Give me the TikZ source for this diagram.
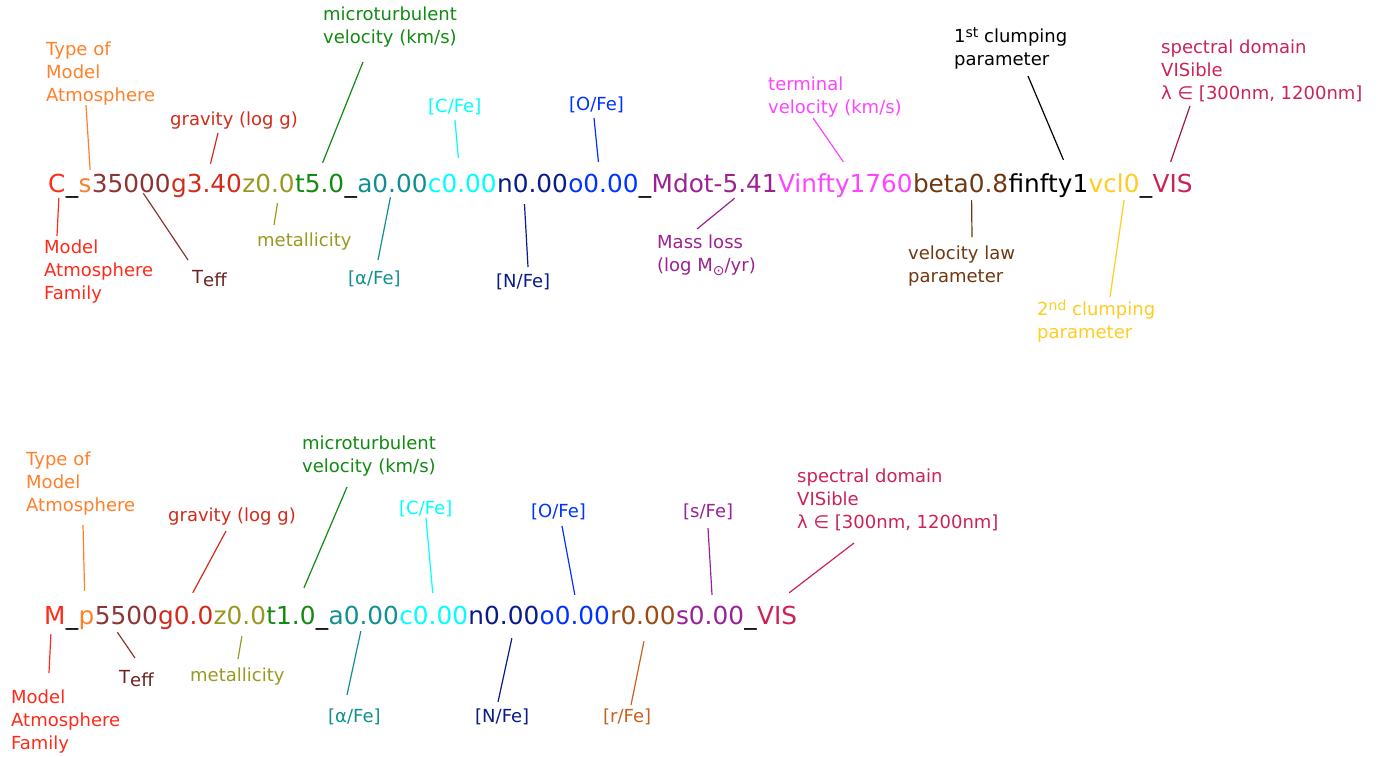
\documentclass[tikz,border=0pt]{standalone}
\usepackage{fontspec}
\setmainfont{DejaVu Sans}
\usetikzlibrary{calc}
\definecolor{cFam}{HTML}{FF2A1A}
\definecolor{cType}{HTML}{FF7F2A}
\definecolor{cTeff}{HTML}{8B3535}
\definecolor{cTeffL}{HTML}{6E2222}
\definecolor{cGrav}{HTML}{D42A1A}
\definecolor{cMet}{HTML}{999922}
\definecolor{cMicro}{HTML}{118A11}
\definecolor{cAlpha}{HTML}{12908F}
\definecolor{cCFe}{HTML}{00FFFF}
\definecolor{cNFe}{HTML}{0A1A88}
\definecolor{cOFe}{HTML}{0033FF}
\definecolor{cMdot}{HTML}{9B2290}
\definecolor{cVinf}{HTML}{FF44FF}
\definecolor{cBeta}{HTML}{703810}
\definecolor{cVcl}{HTML}{FFCC22}
\definecolor{cVIS}{HTML}{CC2255}
\definecolor{cVISd}{HTML}{A01848}
\definecolor{cRFe}{HTML}{A04A12}
\definecolor{cRFeL}{HTML}{C8601E}
\definecolor{cSFe}{HTML}{992299}
\tikzset{
  seg/.style={inner sep=0pt,text height=18pt,text depth=6pt,anchor=base west,
    font=\fontsize{24.75}{30}\selectfont},
  lbl/.style={inner sep=0pt,anchor=base west,align=left,
    font=\fontsize{18}{23}\selectfont},
  lnk/.style={line width=1.2pt}
}
\newcommand{\Sup}[1]{\raisebox{5pt}{\fontsize{14}{14}\selectfont #1}}
\newcommand{\Teff}{T\raisebox{-3.5pt}{eff}}
\newcommand{\Msun}{M\raisebox{-4pt}{\fontsize{14}{14}\selectfont ⊙}}

\begin{document}
\begin{tikzpicture}[x=1pt,y=-1pt]
\useasboundingbox (0,0) rectangle (1386,756);

% first file name (spherical model)
\node[seg,text=cFam] (tC) at (48,192) {C};
\node[seg] (tU1) at (tC.base east) {\_};
\node[seg,text=cType] (tS) at (tU1.base east) {s};
\node[seg,text=cTeff] (tTeff) at (tS.base east) {35000};
\node[seg,text=cGrav] (tGrav) at (tTeff.base east) {g3.40};
\node[seg,text=cMet] (tMet) at (tGrav.base east) {z0.0};
\node[seg,text=cMicro] (tMicro) at (tMet.base east) {t5.0};
\node[seg] (tU2) at (tMicro.base east) {\_};
\node[seg,text=cAlpha] (tAlpha) at (tU2.base east) {a0.00};
\node[seg,text=cCFe] (tCFe) at (tAlpha.base east) {c0.00};
\node[seg,text=cNFe] (tNFe) at (tCFe.base east) {n0.00};
\node[seg,text=cOFe] (tOFe) at (tNFe.base east) {o0.00};
\node[seg] (tU3) at (tOFe.base east) {\_};
\node[seg,text=cMdot] (tMdot) at (tU3.base east) {Mdot-5.41};
\node[seg,text=cVinf] (tVinf) at (tMdot.base east) {Vinfty1760};
\node[seg,text=cBeta] (tBeta) at (tVinf.base east) {beta0.8};
\node[seg] (tFinf) at (tBeta.base east) {finfty1};
\node[seg,text=cVcl] (tVcl) at (tFinf.base east) {vcl0};
\node[seg] (tU4) at (tVcl.base east) {\_};
\node[seg,text=cVIS] (tVIS) at (tU4.base east) {VIS};

% labels above (placed at the baseline of their last line)
\node[lbl,text=cType] (lType) at (46,101) {Type of\\Model\\Atmosphere};
\node[lbl,text=cGrav] (lGrav) at (170,125) {gravity (log g)};
\node[lbl,text=cMicro] (lMicro) at (323,43) {microturbulent\\velocity (km/s)};
\node[lbl,text=cCFe] (lCFe) at (428,112) {[C/Fe]};
\node[lbl,text=cOFe] (lOFe) at (569,110) {[O/Fe]};
\node[lbl,text=cVinf] (lTerm) at (768,113) {terminal\\velocity (km/s)};
\node[lbl] (lClumpA) at (954,65) {1\Sup{st} clumping\\parameter};
\node[lbl,text=cVIS] (lSpec) at (1161,99) {spectral domain\\VISible\\λ ∈ [300nm, 1200nm]};
% labels below
\node[lbl,text=cFam] (lFam) at (44,299) {Model\\Atmosphere\\Family};
\node[lbl,text=cTeffL] (lTeff) at (192,283) {\Teff};
\node[lbl,text=cMet] (lMet) at (257,246) {metallicity};
\node[lbl,text=cAlpha] (lAlpha) at (348,284) {[α/Fe]};
\node[lbl,text=cNFe] (lNFe) at (496,287) {[N/Fe]};
\node[lbl,text=cMdot] (lMass) at (657,271) {Mass loss\\(log \Msun/yr)};
\node[lbl,text=cBeta] (lVlaw) at (908,282) {velocity law\\parameter};
\node[lbl,text=cVcl] (lClumpB) at (1037,338) {2\Sup{nd} clumping\\parameter};

\draw[lnk,cType] ($(lType.base west)+(40,4)$) -- ($(tS.north)+(5,-4)$);
\draw[lnk,cGrav] ($(lGrav.base west)+(48,8)$) -- ($(tGrav.north)+(4,-10)$);
\draw[lnk,cMicro] ($(lMicro.base west)+(40,19)$) -- ($(tMicro.north)+(3,-11)$);
\draw[lnk,cCFe] ($(lCFe.base west)+(27,8)$) -- ($(tCFe.north)+(-4,-16)$);
\draw[lnk,cOFe] ($(lOFe.base west)+(25,8)$) -- ($(tOFe.north)+(-5,-12)$);
\draw[lnk,cVinf] ($(lTerm.base west)+(45,5)$) -- ($(tVinf.north)+(-2,-12)$);
\draw[lnk] ($(lClumpA.base west)+(74,11)$) -- ($(tFinf.north)+(15,-14)$);
\draw[lnk,cVISd] ($(lSpec.base west)+(29,7)$) -- ($(tVIS.north)+(-2,-12)$);
\draw[lnk,cFam] ($(tC.south)+(2,0)$) -- ($(lFam.base west)+(13,-63)$);
\draw[lnk,cTeff] ($(tTeff.south)+(12,-5)$) -- ($(lTeff.base west)+(-4,-23)$);
\draw[lnk,cMet] ($(tMet.south)+(9,5)$) -- ($(lMet.base west)+(17,-21)$);
\draw[lnk,cAlpha] ($(tAlpha.south)+(-2,-1)$) -- ($(lAlpha.base west)+(30,-24)$);
\draw[lnk,cNFe] ($(tNFe.south)+(-8,6)$) -- ($(lNFe.base west)+(32,-20)$);
\draw[lnk,cMdot] ($(tMdot.south)+(20,0)$) -- ($(lMass.base west)+(40,-42)$);
\draw[lnk,cBeta] ($(tBeta.south)+(11,2)$) -- ($(lVlaw.base west)+(64,-45)$);
\draw[lnk,cVcl] ($(tVcl.south)+(10,2)$) -- ($(lClumpB.base west)+(73,-41)$);

% second file name (plane-parallel model)
\node[seg,text=cFam] (bM) at (44,624) {M};
\node[seg] (bU1) at (bM.base east) {\_};
\node[seg,text=cType] (bP) at (bU1.base east) {p};
\node[seg,text=cTeff] (bTeff) at (bP.base east) {5500};
\node[seg,text=cGrav] (bGrav) at (bTeff.base east) {g0.0};
\node[seg,text=cMet] (bMet) at (bGrav.base east) {z0.0};
\node[seg,text=cMicro] (bMicro) at (bMet.base east) {t1.0};
\node[seg] (bU2) at (bMicro.base east) {\_};
\node[seg,text=cAlpha] (bAlpha) at (bU2.base east) {a0.00};
\node[seg,text=cCFe] (bCFe) at (bAlpha.base east) {c0.00};
\node[seg,text=cNFe] (bNFe) at (bCFe.base east) {n0.00};
\node[seg,text=cOFe] (bOFe) at (bNFe.base east) {o0.00};
\node[seg,text=cRFe] (bRFe) at (bOFe.base east) {r0.00};
\node[seg,text=cSFe] (bSFe) at (bRFe.base east) {s0.00};
\node[seg] (bU3) at (bSFe.base east) {\_};
\node[seg,text=cVIS] (bVIS) at (bU3.base east) {VIS};

\node[lbl,text=cType] (lType2) at (26,511) {Type of\\Model\\Atmosphere};
\node[lbl,text=cGrav] (lGrav2) at (168,521) {gravity (log g)};
\node[lbl,text=cMicro] (lMicro2) at (302,472) {microturbulent\\velocity (km/s)};
\node[lbl,text=cCFe] (lCFe2) at (399,514) {[C/Fe]};
\node[lbl,text=cOFe] (lOFe2) at (531,517) {[O/Fe]};
\node[lbl,text=cSFe] (lSFe) at (683,517) {[s/Fe]};
\node[lbl,text=cVIS] (lSpec2) at (797,528) {spectral domain\\VISible\\λ ∈ [300nm, 1200nm]};
\node[lbl,text=cFam] (lFam2) at (11,749) {Model\\Atmosphere\\Family};
\node[lbl,text=cTeffL] (lTeff2) at (119,683) {\Teff};
\node[lbl,text=cMet] (lMet2) at (190,681) {metallicity};
\node[lbl,text=cAlpha] (lAlpha2) at (328,722) {[α/Fe]};
\node[lbl,text=cNFe] (lNFe2) at (475,722) {[N/Fe]};
\node[lbl,text=cRFeL] (lRFe) at (603,722) {[r/Fe]};

\draw[lnk,cType] ($(lType2.base west)+(57,14)$) -- ($(bP.north)+(-2,-15)$);
\draw[lnk,cGrav] ($(lGrav2.base west)+(58,10)$) -- ($(bGrav.north)+(7,-13)$);
\draw[lnk,cMicro] ($(lMicro2.base west)+(45,15)$) -- ($(bMicro.north)+(13,-18)$);
\draw[lnk,cCFe] ($(lCFe2.base west)+(27,4)$) -- ($(bCFe.north)+(-1,-13)$);
\draw[lnk,cOFe] ($(lOFe2.base west)+(31,9)$) -- ($(bOFe.north)+(0,-11)$);
\draw[lnk,cSFe] ($(lSFe.base west)+(25,11)$) -- ($(bSFe.north)+(2,-11)$);
\draw[lnk,cVIS] ($(lSpec2.base west)+(57,15)$) -- ($(bVIS.north)+(12,-13)$);
\draw[lnk,cFam] ($(bM.south)+(-4,4)$) -- ($(lFam2.base west)+(38,-76)$);
\draw[lnk,cTeff] ($(bTeff.south)+(-9,2)$) -- ($(lTeff2.base west)+(16,-25)$);
\draw[lnk,cMet] ($(bMet.south)+(2,6)$) -- ($(lMet2.base west)+(48,-22)$);
\draw[lnk,cAlpha] ($(bAlpha.south)+(-3,1)$) -- ($(lAlpha2.base west)+(19,-27)$);
\draw[lnk,cNFe] ($(bNFe.south)+(8,8)$) -- ($(lNFe2.base west)+(23,-20)$);
\draw[lnk,cRFeL] ($(bRFe.south)+(1,11)$) -- ($(lRFe.base west)+(28,-17)$);
\end{tikzpicture}
\end{document}
